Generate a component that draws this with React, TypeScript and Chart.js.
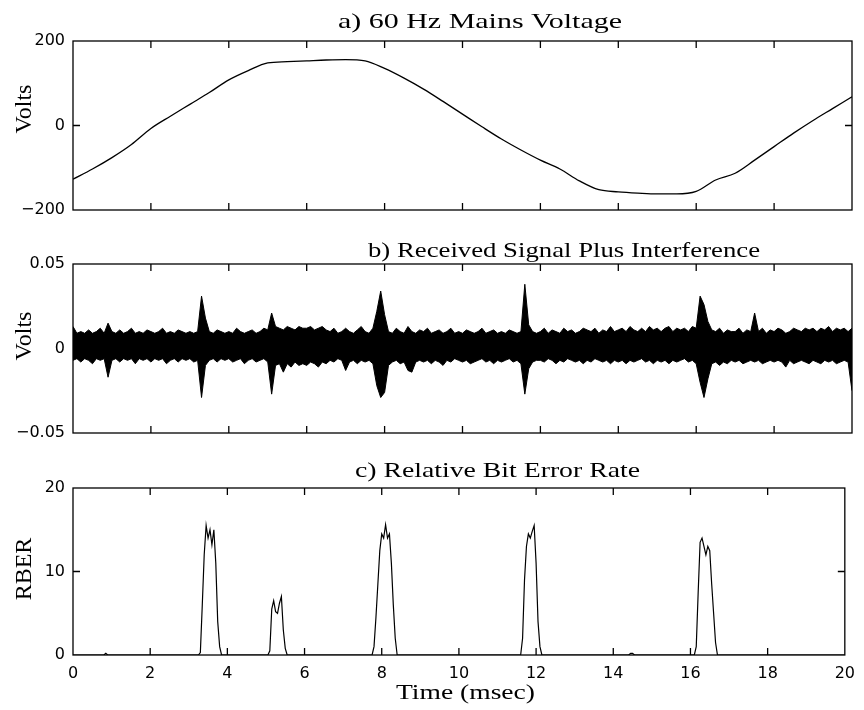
import React, { useEffect, useRef } from "react";
import { Chart, registerables } from "chart.js";

Chart.register(...registerables);
Chart.defaults.color = "#000";

const SERIF = '"Liberation Serif", "Times New Roman", serif';
const SANS = '"DejaVu Sans", "Liberation Sans", sans-serif';

// ---------- shared axis ----------
const timeTicks = [0, 2, 4, 6, 8, 10, 12, 14, 16, 18, 20];

// ---------- a) 60 Hz mains voltage (sampled every 0.5 ms) ----------
const mainsStepMs = 0.5;
const mainsVolts = [
  -127, -103, -76, -45, -7, 22, 50, 78, 108, 130,
  148, 151, 153, 155, 156, 153, 135, 112, 86, 57,
  27, -3, -32, -58, -82, -103, -131, -152, -157, -160,
  -162, -162, -156, -129, -113, -82, -50, -18, 12, 40,
  68,
];
const mainsTicks = [-200, 0, 200];

// ---------- b) received signal plus interference (envelope every 0.1 ms, mV) ----------
const noiseStepMs = 0.1;
const noiseHighMv = [
  13, 9, 10, 9, 11, 9, 10, 12, 9, 15,
  10, 9, 11, 9, 10, 12, 9, 10, 9, 11,
  10, 9, 10, 12, 9, 10, 9, 11, 10, 9,
  10, 9, 10, 31, 18, 10, 9, 11, 10, 9,
  10, 9, 12, 10, 9, 10, 11, 9, 10, 12,
  11, 21, 13, 12, 11, 13, 12, 11, 13, 12,
  12, 13, 11, 12, 13, 11, 10, 12, 9, 10,
  12, 10, 9, 11, 13, 10, 9, 12, 22, 34,
  20, 10, 9, 12, 10, 9, 13, 10, 9, 11,
  10, 12, 9, 10, 11, 9, 10, 12, 9, 10,
  9, 11, 10, 9, 10, 12, 9, 10, 11, 9,
  10, 9, 11, 10, 9, 10, 38, 14, 10, 9,
  10, 12, 9, 11, 10, 9, 12, 10, 11, 9,
  10, 12, 11, 10, 12, 9, 11, 10, 13, 10,
  11, 12, 10, 13, 11, 10, 12, 10, 13, 11,
  12, 10, 12, 13, 10, 12, 11, 12, 10, 13,
  12, 31, 26, 16, 11, 10, 12, 9, 11, 10,
  10, 12, 9, 11, 10, 21, 10, 12, 9, 11,
  10, 12, 11, 9, 10, 12, 11, 10, 12, 11,
  12, 10, 12, 11, 13, 10, 12, 11, 12, 10, 12,
];
const noiseLowMv = [
  -7, -6, -8, -6, -7, -9, -6, -7, -6, -17,
  -7, -6, -8, -6, -7, -6, -9, -6, -7, -6,
  -8, -6, -7, -6, -9, -7, -6, -8, -6, -7,
  -6, -8, -7, -29, -10, -7, -6, -8, -6, -7,
  -6, -8, -7, -6, -9, -7, -6, -8, -7, -6,
  -8, -27, -10, -9, -14, -9, -11, -8, -10, -9,
  -10, -8, -9, -11, -8, -9, -7, -8, -6, -7,
  -13, -8, -7, -9, -7, -8, -7, -9, -22, -29,
  -26, -10, -8, -7, -9, -8, -13, -14, -8, -7,
  -8, -7, -9, -7, -8, -10, -7, -8, -6, -7,
  -8, -7, -9, -8, -7, -6, -8, -7, -9, -7,
  -8, -7, -6, -8, -7, -9, -27, -12, -8, -7,
  -7, -8, -6, -7, -9, -7, -8, -6, -7, -8,
  -7, -9, -7, -8, -6, -7, -8, -7, -9, -7,
  -8, -7, -9, -7, -8, -7, -6, -8, -7, -9,
  -7, -8, -7, -9, -7, -8, -7, -6, -8, -7,
  -9, -20, -29, -18, -9, -8, -10, -8, -9, -7,
  -8, -7, -9, -8, -7, -8, -7, -9, -8, -7,
  -8, -7, -8, -11, -7, -9, -8, -7, -8, -9,
  -7, -8, -9, -7, -8, -7, -9, -8, -7, -8, -25,
];
const signalTicks = [-0.05, 0, 0.05];

// ---------- c) relative bit error rate ----------
const rberTimes = [
  0, 0.8, 0.85, 0.9,
  3.25, 3.3, 3.35, 3.4, 3.45, 3.5, 3.55, 3.6, 3.65, 3.7, 3.75, 3.8, 3.85,
  5.05, 5.1, 5.15, 5.2, 5.25, 5.3, 5.35, 5.4, 5.45, 5.5, 5.55,
  7.75, 7.8, 7.85, 7.9, 7.95, 8.0, 8.05, 8.1, 8.15, 8.2, 8.25, 8.3, 8.35, 8.4,
  11.6, 11.65, 11.7, 11.75, 11.8, 11.85, 11.9, 11.95, 12.0, 12.05, 12.1, 12.15,
  14.4, 14.45, 14.5, 14.55,
  16.1, 16.15, 16.2, 16.25, 16.3, 16.35, 16.4, 16.45, 16.5, 16.55, 16.6, 16.65, 16.7,
  20,
];
const rberValues = [
  0, 0, 0.2, 0,
  0, 0.3, 6, 12, 15.5, 14, 15, 13.2, 15, 11, 4, 1, 0,
  0, 0.5, 5.5, 6.5, 5.2, 5, 6.2, 7, 3, 0.8, 0,
  0, 1, 4.5, 8.5, 12.5, 14.5, 14, 15.6, 14, 14.5, 11, 6, 2, 0,
  0, 2, 9, 13, 14.5, 14, 14.8, 15.5, 11, 4, 1, 0,
  0, 0.2, 0.2, 0,
  0, 1, 7.5, 13.5, 14, 13, 12, 13, 12.5, 8.5, 5, 1.5, 0,
  0,
];
const rberTicks = [0, 10, 20];

// ---------- text ----------
const titleA = "a) 60 Hz Mains Voltage";
const titleB = "b) Received Signal Plus Interference";
const titleC = "c) Relative Bit Error Rate";
const yLabelA = "Volts";
const yLabelB = "Volts";
const yLabelC = "RBER";
const xLabel = "Time (msec)";

const fmtTick = (v: number) => (v < 0 ? "\u2212" : "") + String(Math.abs(v));

type TextSpec = {
  text: string;
  x: number;
  y: number;
  right?: number;
  rotate?: boolean;
  size: number;
};

const panelPlugin = {
  id: "panelDecor",
  afterDraw(chart: any, _args: any, opts: any) {
    const ctx: CanvasRenderingContext2D = chart.ctx;
    const a = chart.chartArea;
    const xs = chart.scales.x;
    const ys = chart.scales.y;
    ctx.save();
    ctx.strokeStyle = "#000";
    ctx.lineWidth = 1.3;
    ctx.strokeRect(a.left, a.top, a.right - a.left, a.bottom - a.top);
    const tl = 7;
    ctx.beginPath();
    for (const v of timeTicks) {
      const px = xs.getPixelForValue(v);
      if (px > a.left + 1 && px < a.right - 1) {
        ctx.moveTo(px, a.bottom);
        ctx.lineTo(px, a.bottom - tl);
        ctx.moveTo(px, a.top);
        ctx.lineTo(px, a.top + tl);
      }
    }
    const yt: number[] = opts.yTicks || [];
    for (const v of yt) {
      const py = ys.getPixelForValue(v);
      if (py > a.top + 1 && py < a.bottom - 1) {
        ctx.moveTo(a.left, py);
        ctx.lineTo(a.left + tl, py);
        ctx.moveTo(a.right, py);
        ctx.lineTo(a.right - tl, py);
      }
    }
    ctx.stroke();

    ctx.fillStyle = "#000";
    const texts: TextSpec[] = opts.texts || [];
    for (const t of texts) {
      ctx.save();
      ctx.font = `${t.size}px ${SERIF}`;
      if (t.rotate) {
        ctx.translate(t.x, t.y);
        ctx.rotate(-Math.PI / 2);
        ctx.textAlign = "center";
        ctx.textBaseline = "middle";
        ctx.fillText(t.text, 0, 0);
      } else {
        ctx.textAlign = "left";
        ctx.textBaseline = "alphabetic";
        const w = ctx.measureText(t.text).width;
        const sx = t.right ? (t.right - t.x) / w : 1;
        ctx.translate(t.x, t.y);
        ctx.scale(sx, 1);
        ctx.fillText(t.text, 0, 0);
      }
      ctx.restore();
    }
    ctx.restore();
  },
};

function makeOptions(cfg: {
  yMin: number;
  yMax: number;
  yTicks: number[];
  padTop: number;
  padBottom: number;
  xHeight: number;
  showX: boolean;
  texts: TextSpec[];
}) {
  return {
    responsive: false,
    animation: false as const,
    devicePixelRatio: 1,
    layout: { padding: { left: 0, right: 12, top: cfg.padTop, bottom: cfg.padBottom } },
    plugins: {
      legend: { display: false },
      tooltip: { enabled: false },
      title: { display: false },
      panelDecor: { texts: cfg.texts, yTicks: cfg.yTicks },
    },
    scales: {
      x: {
        type: "linear" as const,
        min: 0,
        max: 20,
        grid: { display: false, drawTicks: false },
        border: { display: false },
        afterBuildTicks: (s: any) => {
          s.ticks = timeTicks.map((v) => ({ value: v }));
        },
        afterFit: (s: any) => {
          s.height = cfg.xHeight;
        },
        ticks: {
          display: cfg.showX,
          padding: 9,
          maxRotation: 0,
          autoSkip: false,
          font: { family: SANS, size: 16 },
          color: "#000",
          callback: (v: any) => fmtTick(Number(v)),
        },
      },
      y: {
        type: "linear" as const,
        min: cfg.yMin,
        max: cfg.yMax,
        grid: { display: false, drawTicks: false },
        border: { display: false },
        afterBuildTicks: (s: any) => {
          s.ticks = cfg.yTicks.map((v) => ({ value: v }));
        },
        afterFit: (s: any) => {
          s.width = 73;
        },
        ticks: {
          padding: 8,
          autoSkip: false,
          font: { family: SANS, size: 16 },
          color: "#000",
          callback: (v: any) => fmtTick(Number(v)),
        },
      },
    },
  };
}

export default function App() {
  const refA = useRef<HTMLCanvasElement>(null);
  const refB = useRef<HTMLCanvasElement>(null);
  const refC = useRef<HTMLCanvasElement>(null);

  useEffect(() => {
    const charts: Chart[] = [];

    const mainsData = mainsVolts.map((v, i) => ({ x: i * mainsStepMs, y: v }));
    charts.push(
      new Chart(refA.current!, {
        type: "line",
        data: {
          datasets: [
            {
              data: mainsData,
              borderColor: "#000",
              borderWidth: 1.3,
              pointRadius: 0,
              cubicInterpolationMode: "monotone",
              fill: false,
            },
          ],
        },
        options: makeOptions({
          yMin: -200,
          yMax: 200,
          yTicks: mainsTicks,
          padTop: 41,
          padBottom: 27,
          xHeight: 0,
          showX: false,
          texts: [
            { text: titleA, x: 338, y: 28, right: 622, size: 22 },
            { text: yLabelA, x: 25, y: 109, rotate: true, size: 24 },
          ],
        }) as any,
        plugins: [panelPlugin],
      })
    );

    const highData = noiseHighMv.map((v, i) => ({ x: i * noiseStepMs, y: v / 1000 }));
    const lowData = noiseLowMv.map((v, i) => ({ x: i * noiseStepMs, y: v / 1000 }));
    charts.push(
      new Chart(refB.current!, {
        type: "line",
        data: {
          datasets: [
            {
              data: highData,
              borderColor: "#000",
              backgroundColor: "#000",
              borderWidth: 1,
              pointRadius: 0,
              fill: "+1",
            },
            {
              data: lowData,
              borderColor: "#000",
              backgroundColor: "#000",
              borderWidth: 1,
              pointRadius: 0,
              fill: false,
            },
          ],
        },
        options: makeOptions({
          yMin: -0.05,
          yMax: 0.05,
          yTicks: signalTicks,
          padTop: 27,
          padBottom: 29,
          xHeight: 0,
          showX: false,
          texts: [
            { text: titleB, x: 368, y: 20, right: 760, size: 22 },
            { text: yLabelB, x: 25, y: 99, rotate: true, size: 24 },
          ],
        }) as any,
        plugins: [panelPlugin],
      })
    );

    const rberData = rberTimes.map((t, i) => ({ x: t, y: rberValues[i] }));
    charts.push(
      new Chart(refC.current!, {
        type: "line",
        data: {
          datasets: [
            {
              data: rberData,
              borderColor: "#000",
              borderWidth: 1.2,
              pointRadius: 0,
              fill: false,
            },
          ],
        },
        options: makeOptions({
          yMin: 0,
          yMax: 20,
          yTicks: rberTicks,
          padTop: 26,
          padBottom: 0,
          xHeight: 55,
          showX: true,
          texts: [
            { text: titleC, x: 355, y: 15, right: 640, size: 22 },
            { text: yLabelC, x: 25, y: 107, rotate: true, size: 24 },
            { text: xLabel, x: 396, y: 237, right: 535, size: 22 },
          ],
        }) as any,
        plugins: [panelPlugin],
      })
    );

    return () => charts.forEach((c) => c.destroy());
  }, []);

  const base: React.CSSProperties = { position: "absolute", left: 0, display: "block" };
  return (
    <div style={{ position: "fixed", left: 0, top: 0, width: 864, height: 710, background: "#fff" }}>
      <canvas ref={refA} width={864} height={237} style={{ ...base, top: 0 }} />
      <canvas ref={refB} width={864} height={225} style={{ ...base, top: 237 }} />
      <canvas ref={refC} width={864} height={248} style={{ ...base, top: 462 }} />
    </div>
  );
}
